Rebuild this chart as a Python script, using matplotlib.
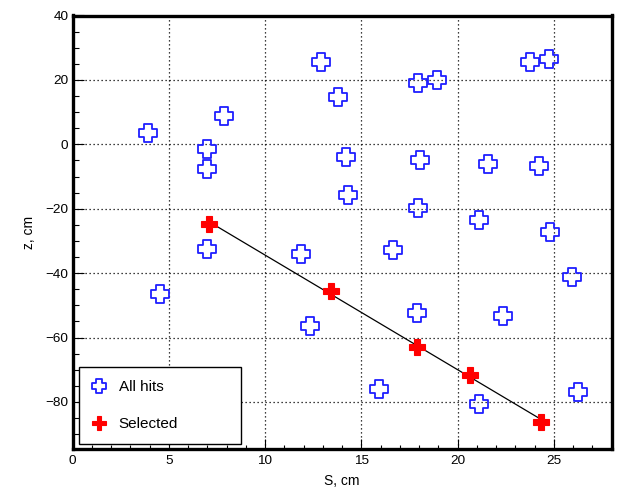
"""Hit map in the (S, z) plane with the selected track hits and their straight-line fit."""

import matplotlib

matplotlib.use("Agg")
import matplotlib.pyplot as plt
import numpy as np
from matplotlib.path import Path
from matplotlib.ticker import MultipleLocator

# all reconstructed hits
hits_s = [3.92, 6.99, 6.99, 7.87, 6.99, 4.55, 11.87, 12.34, 12.91, 13.79,
          14.19, 14.31, 17.96, 18.94, 18.05, 17.93, 21.57, 24.22, 23.78, 24.77,
          21.10, 24.79, 16.65, 25.95, 17.88, 22.38, 15.94, 21.12, 26.24]
hits_z = [3.5, -1.4, -7.8, 8.8, -32.5, -46.5, -34.0, -56.4, 25.6, 14.7,
          -3.9, -15.7, 19.1, 20.1, -5.0, -19.8, -6.2, -6.6, 25.6, 26.4,
          -23.5, -27.3, -32.8, -41.1, -52.5, -53.3, -75.9, -80.5, -76.8]

# hits picked up by the track finder
sel_s = [7.09, 13.41, 17.91, 20.66, 24.35]
sel_z = [-24.7, -45.4, -63.0, -71.6, -86.1]

X_RANGE = (0, 28)
Z_RANGE = (-94.6, 40)

FONT = ["Liberation Sans", "DejaVu Sans"]
plt.rcParams["font.family"] = FONT


def open_cross(a=0.21, b=0.5):
    verts = [(-a, -b), (-a, -a), (-b, -a), (-b, a), (-a, a), (-a, b),
             (a, b), (a, a), (b, a), (b, -a), (a, -a), (a, -b), (-a, -b)]
    codes = [Path.MOVETO] + [Path.LINETO] * 11 + [Path.CLOSEPOLY]
    return Path(verts, codes)


fig = plt.figure(figsize=(6.18, 4.88), dpi=100)
ax = fig.add_axes([72.5 / 618, 1 - 449 / 488, 539 / 618, 433.5 / 488])

# linear fit through the selected hits, drawn over their S span
slope, icpt = np.polyfit(sel_s, sel_z, 1)
s_fit = np.array([min(sel_s), max(sel_s)])
ax.plot(s_fit, slope * s_fit + icpt, color="black", lw=0.9, zorder=2)

ax.plot(hits_s, hits_z, ls="none", marker=open_cross(), ms=13,
        mfc="none", mec="#1f1fff", mew=1.3, label="All hits", zorder=3)
ax.plot(sel_s, sel_z, ls="none", marker="P", ms=11,
        mfc="#ff0000", mec="#ff0000", mew=0.8, label="Selected", zorder=4)

ax.set_xlim(*X_RANGE)
ax.set_ylim(*Z_RANGE)

ax.xaxis.set_major_locator(MultipleLocator(5))
ax.xaxis.set_minor_locator(MultipleLocator(1))
ax.yaxis.set_major_locator(MultipleLocator(20))
ax.yaxis.set_minor_locator(MultipleLocator(5))

ax.grid(True, which="major", color="black", ls=(0, (1, 2.2)), lw=0.9)
ax.set_axisbelow(True)

for sp in ax.spines.values():
    sp.set_linewidth(2.4)

ax.tick_params(axis="both", which="both", direction="in", width=0.8,
               top=False, right=False, labelsize=9.7)
ax.tick_params(axis="x", which="major", length=7, pad=4.5)
ax.tick_params(axis="x", which="minor", length=3)
ax.tick_params(axis="y", which="major", length=7.7, pad=3)
ax.tick_params(axis="y", which="minor", length=4.3)

ax.set_xlabel("S, cm", fontsize=10)
ax.set_ylabel("z, cm", fontsize=10)
ax.xaxis.set_label_coords(0.5, -0.057)
ax.yaxis.set_label_coords(-0.068, 0.5)

leg = ax.legend(loc="lower left", bbox_to_anchor=(0.012, 0.0115, 0.30, 0.187),
                mode="expand", fontsize=11, numpoints=1, handlelength=0.9,
                handletextpad=0.85, borderpad=0.85, labelspacing=1.5,
                fancybox=False, framealpha=1, edgecolor="black",
                borderaxespad=0)
leg.get_frame().set_linewidth(1.0)
# legend handles are a little smaller than the plotted markers
leg.legend_handles[0].set_markersize(10)
leg.legend_handles[1].set_markersize(10)

fig.savefig("out.png", dpi=100)
